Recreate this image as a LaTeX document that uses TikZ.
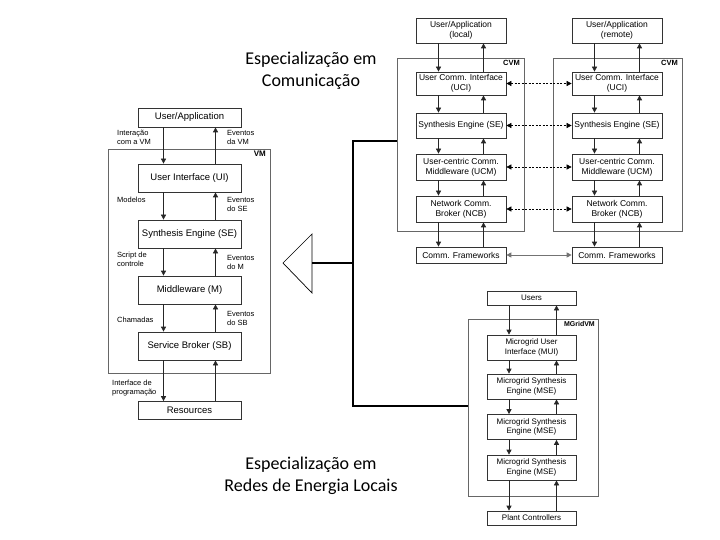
\documentclass[tikz,border=0pt]{standalone}
\usepackage{fontspec}
\setmainfont{Liberation Sans}
\newfontfamily\calib{Carlito}
\usetikzlibrary{arrows.meta}
\begin{document}
\begin{tikzpicture}[x=1pt,y=-1pt,
 bx/.style={draw=black!80, line width=0.7pt, fill=white, inner sep=0pt, align=center},
 vmbox/.style={bx, minimum width=103pt, minimum height=28pt, font=\fontsize{9.5}{11}\selectfont},
 cbox/.style={bx, minimum width=90pt, font=\fontsize{8.5}{10}\selectfont},
 mbox/.style={bx, minimum width=89pt, font=\fontsize{8}{9.4}\selectfont},
 frm/.style={draw=black!60, line width=0.7pt, inner sep=0pt},
 lbl/.style={font=\fontsize{7.5}{9}\selectfont, align=left, inner sep=0pt, anchor=west},
 ttl/.style={font=\bfseries\fontsize{7.5}{9}\selectfont, inner sep=0pt, anchor=east},
 arr/.style={-{Triangle[length=5pt,width=5pt]}, line width=0.7pt, draw=black!85},
 darr/.style={{Triangle[length=5pt,width=5pt]}-{Triangle[length=5pt,width=5pt]}, dash pattern=on 2pt off 1.5pt, line width=0.6pt},
 garr/.style={{Triangle[length=5pt,width=5pt]}-{Triangle[length=5pt,width=5pt]}, line width=0.9pt, draw=black!55},
 thk/.style={line width=2pt, draw=black},
 head/.style={font=\calib\fontsize{18}{22}\selectfont, align=center, inner sep=0pt}
]
\useasboundingbox (0,0) rectangle (720,540);

% ---------- VM block ----------
\node[frm, minimum width=162pt, minimum height=224pt] (vmf) at (189,261) {};
\node[ttl, font=\bfseries\fontsize{8}{9}\selectfont] (vmt) at (266,154) {VM};
\node[vmbox, minimum height=19pt] (vua) at (189.5,117.5) {User/Application};
\node[vmbox] (vui) at (189.5,178) {User Interface (UI)};
\node[vmbox] (vse) at (189.5,234) {Synthesis Engine (SE)};
\node[vmbox] (vm) at (189.5,290) {Middleware (M)};
\node[vmbox] (vsb) at (189.5,346) {Service Broker (SB)};
\node[vmbox, minimum height=18pt] (vres) at (189.5,410.5) {Resources};
\foreach \a/\b in {vua/vui, vui/vse, vse/vm, vm/vsb, vsb/vres}{
  \draw[arr] ([xshift=-26pt]\a.south) -- ([xshift=-26pt]\b.north);
  \draw[arr] ([xshift=26pt]\b.north) -- ([xshift=26pt]\a.south);
}
\node[lbl] (l1) at (117,137.5) {Interação\\com a VM};
\node[lbl] (r1) at (227,137.5) {Eventos\\da VM};
\node[lbl] (l2) at (117,200) {Modelos};
\node[lbl] (r2) at (227,204.5) {Eventos\\do SE};
\node[lbl] (l3) at (117,259.5) {Script de\\controle};
\node[lbl] (r3) at (227,262) {Eventos\\do M};
\node[lbl] (l4) at (117,320) {Chamadas};
\node[lbl] (r4) at (227,318) {Eventos\\do SB};
\node[lbl] (l5) at (112,388.5) {Interface de\\programação};

% ---------- CVM blocks ----------
\node[frm, minimum width=127pt, minimum height=173pt] (cfl) at (460.5,144.5) {};
\node[frm, minimum width=129pt, minimum height=173pt] (cfr) at (617.5,144.5) {};
\node[ttl] (cvl) at (520,63) {CVM};
\node[ttl] (cvr) at (678,63) {CVM};
\foreach \s/\x/\t in {L/461/local, R/617/remote}{
  \node[cbox, minimum height=25pt] (ua\s) at (\x,30.5) {User/Application\\(\t)};
  \node[cbox, minimum height=23pt] (uci\s) at (\x,83.5) {User Comm. Interface\\(UCI)};
  \node[cbox, minimum height=25pt] (se\s) at (\x,125.5) {Synthesis Engine (SE)};
  \node[cbox, minimum height=26pt] (ucm\s) at (\x,167) {User-centric Comm.\\Middleware (UCM)};
  \node[cbox, minimum height=26pt] (ncb\s) at (\x,209) {Network Comm.\\Broker (NCB)};
  \node[cbox, minimum height=16pt] (cf\s) at (\x,255) {Comm. Frameworks};
  \foreach \a/\b in {ua/uci, uci/se, se/ucm, ucm/ncb, ncb/cf}{
    \draw[arr] ([xshift=-22.5pt]\a\s.south) -- ([xshift=-22.5pt]\b\s.north);
    \draw[arr] ([xshift=22.5pt]\b\s.north) -- ([xshift=22.5pt]\a\s.south);
  }
}
\foreach \n in {uci, se, ucm, ncb}{
  \draw[darr] (\n L.east) -- (\n R.west);
}
\draw[garr] (cfL.east) -- (cfR.west);

% ---------- MGridVM block ----------
\node[frm, minimum width=130pt, minimum height=177pt] (mgf) at (533,407.5) {};
\node[ttl, font=\bfseries\fontsize{7}{9}\selectfont] (mgt) at (595,324) {MGridVM};
\node[mbox, minimum height=14pt] (mus) at (531.5,298) {Users};
\node[mbox, minimum height=25pt] (mui) at (531.5,347.5) {Microgrid User\\Interface (MUI)};
\node[mbox, minimum height=25pt] (ms1) at (531.5,386.5) {Microgrid Synthesis\\Engine (MSE)};
\node[mbox, minimum height=25pt] (ms2) at (531.5,427) {Microgrid Synthesis\\Engine (MSE)};
\node[mbox, minimum height=25pt] (ms3) at (531.5,467.5) {Microgrid Synthesis\\Engine (MSE)};
\node[mbox, minimum height=14pt] (mpc) at (531.5,518) {Plant Controllers};
\foreach \a/\b in {mus/mui, mui/ms1, ms1/ms2, ms2/ms3, ms3/mpc}{
  \draw[arr] ([xshift=-22.5pt]\a.south) -- ([xshift=-22.5pt]\b.north);
  \draw[arr] ([xshift=25pt]\b.north) -- ([xshift=25pt]\a.south);
}

% ---------- specialisation connector ----------
\coordinate (tip) at (283,263);
\coordinate (tb) at (312,263);
\coordinate (jm) at (353,263);
\coordinate (jt) at (353,141);
\coordinate (jb) at (353,406);
\draw[line width=0.7pt, fill=white] (tip) -- (312,234) -- (312,293) -- cycle;
\draw[thk] (tb) -- (jm);
\draw[thk] (cfl.west |- jt) -- (jt) -- (jb) -- (mgf.west |- jb);

% ---------- headings ----------
\node[head] (h1) at (311,71) {Especialização em\\Comunicação};
\node[head] (h2) at (311,476) {Especialização em\\Redes de Energia Locais};
\end{tikzpicture}
\end{document}
